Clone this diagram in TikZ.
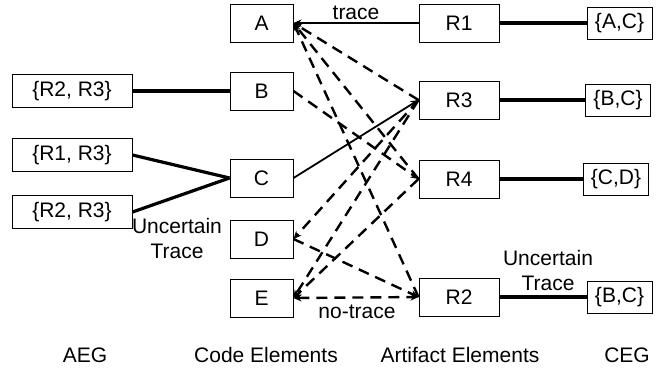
\documentclass[tikz,border=0pt]{standalone}
\usepackage{fontspec}
\setmainfont{Liberation Sans}
\usetikzlibrary{arrows.meta}
\begin{document}
\begin{tikzpicture}[x=0.5pt,y=-0.5pt,
    font=\fontsize{10.5}{12.5}\selectfont,
    elem/.style={draw,line width=0.5pt,inner sep=0pt,minimum width=31.5pt,minimum height=19pt},
    art/.style={elem,minimum width=40pt},
    grp/.style={draw,line width=0.5pt,inner sep=0pt,minimum width=60pt,minimum height=16.5pt},
    cgrp/.style={grp,minimum width=32.5pt,minimum height=16pt},
    link/.style={line width=1.6pt},
    tr/.style={line width=0.9pt,-{Stealth[length=4pt,width=3.5pt]}},
    notr/.style={line width=1.2pt,dash pattern=on 5.5pt off 3.5pt,-{Stealth[length=4pt,width=3.5pt]}}]
    \useasboundingbox (0,0) rectangle (667,371);
    % code elements
    \node[elem] (a) at (261.5,23) {A};
    \node[elem] (b) at (261.5,91) {B};
    \node[elem] (c) at (261.5,178) {C};
    \node[elem] (d) at (261.5,239) {D};
    \node[elem] (e) at (261.5,298) {E};
    % artifact elements
    \node[art] (r1) at (459,23) {R1};
    \node[art] (r3) at (459,100) {R3};
    \node[art] (r4) at (459,179) {R4};
    \node[art] (r2) at (459,297) {R2};
    % AEG
    \node[grp] (aegb) at (72,91) {\{R2, R3\}};
    \node[grp] (aegc1) at (72,155) {\{R1, R3\}};
    \node[grp] (aegc2) at (72,212) {\{R2, R3\}};
    % CEG
    \node[cgrp] (ceg1) at (619.5,23) {\{A,C\}};
    \node[cgrp] (ceg3) at (618,100) {\{B,C\}};
    \node[cgrp] (ceg4) at (616,179) {\{C,D\}};
    \node[cgrp] (ceg2) at (619.5,297) {\{B,C\}};

    \draw[link] (aegb.east) -- (b.west);
    \draw[link] (aegc1.east) -- (c.west);
    \draw[link] (aegc2.east) -- (c.west);
    \draw[link] (r1.east) -- (ceg1.west);
    \draw[link] (r3.east) -- (ceg3.west);
    \draw[link] (r4.east) -- (ceg4.west);
    \draw[link] (r2.east) -- (ceg2.west);

    \draw[tr] (r1.west) -- node[above,inner sep=1pt] {trace} (a.east);
    \draw[tr] (c.east) -- (r3.west);

    \draw[notr] (r3.west) -- (a.east);
    \draw[notr] (r4.west) -- (a.east);
    \draw[notr] (r2.west) -- (a.east);
    \draw[notr] (b.east) -- (r4.west);
    \draw[notr] (r3.west) -- (d.east);
    \draw[notr] (d.east) -- (r2.west);
    \draw[notr] (r3.west) -- (e.east);
    \draw[notr] (r4.west) -- (e.east);
    \draw[notr,{Stealth[length=4pt,width=3.5pt]}-{Stealth[length=4pt,width=3.5pt]}] (e.east) -- (r2.west);

    \node (nolab) at (357,312) {no-trace};
    \node[align=center] (unc1) at (177,238) {Uncertain\\Trace};
    \node[align=center] (unc2) at (548,270) {Uncertain\\Trace};

    \node (l1) at (85,355) {AEG};
    \node (l2) at (266,355) {Code Elements};
    \node (l3) at (460,355) {Artifact Elements};
    \node (l4) at (627,355) {CEG};
\end{tikzpicture}
\end{document}
